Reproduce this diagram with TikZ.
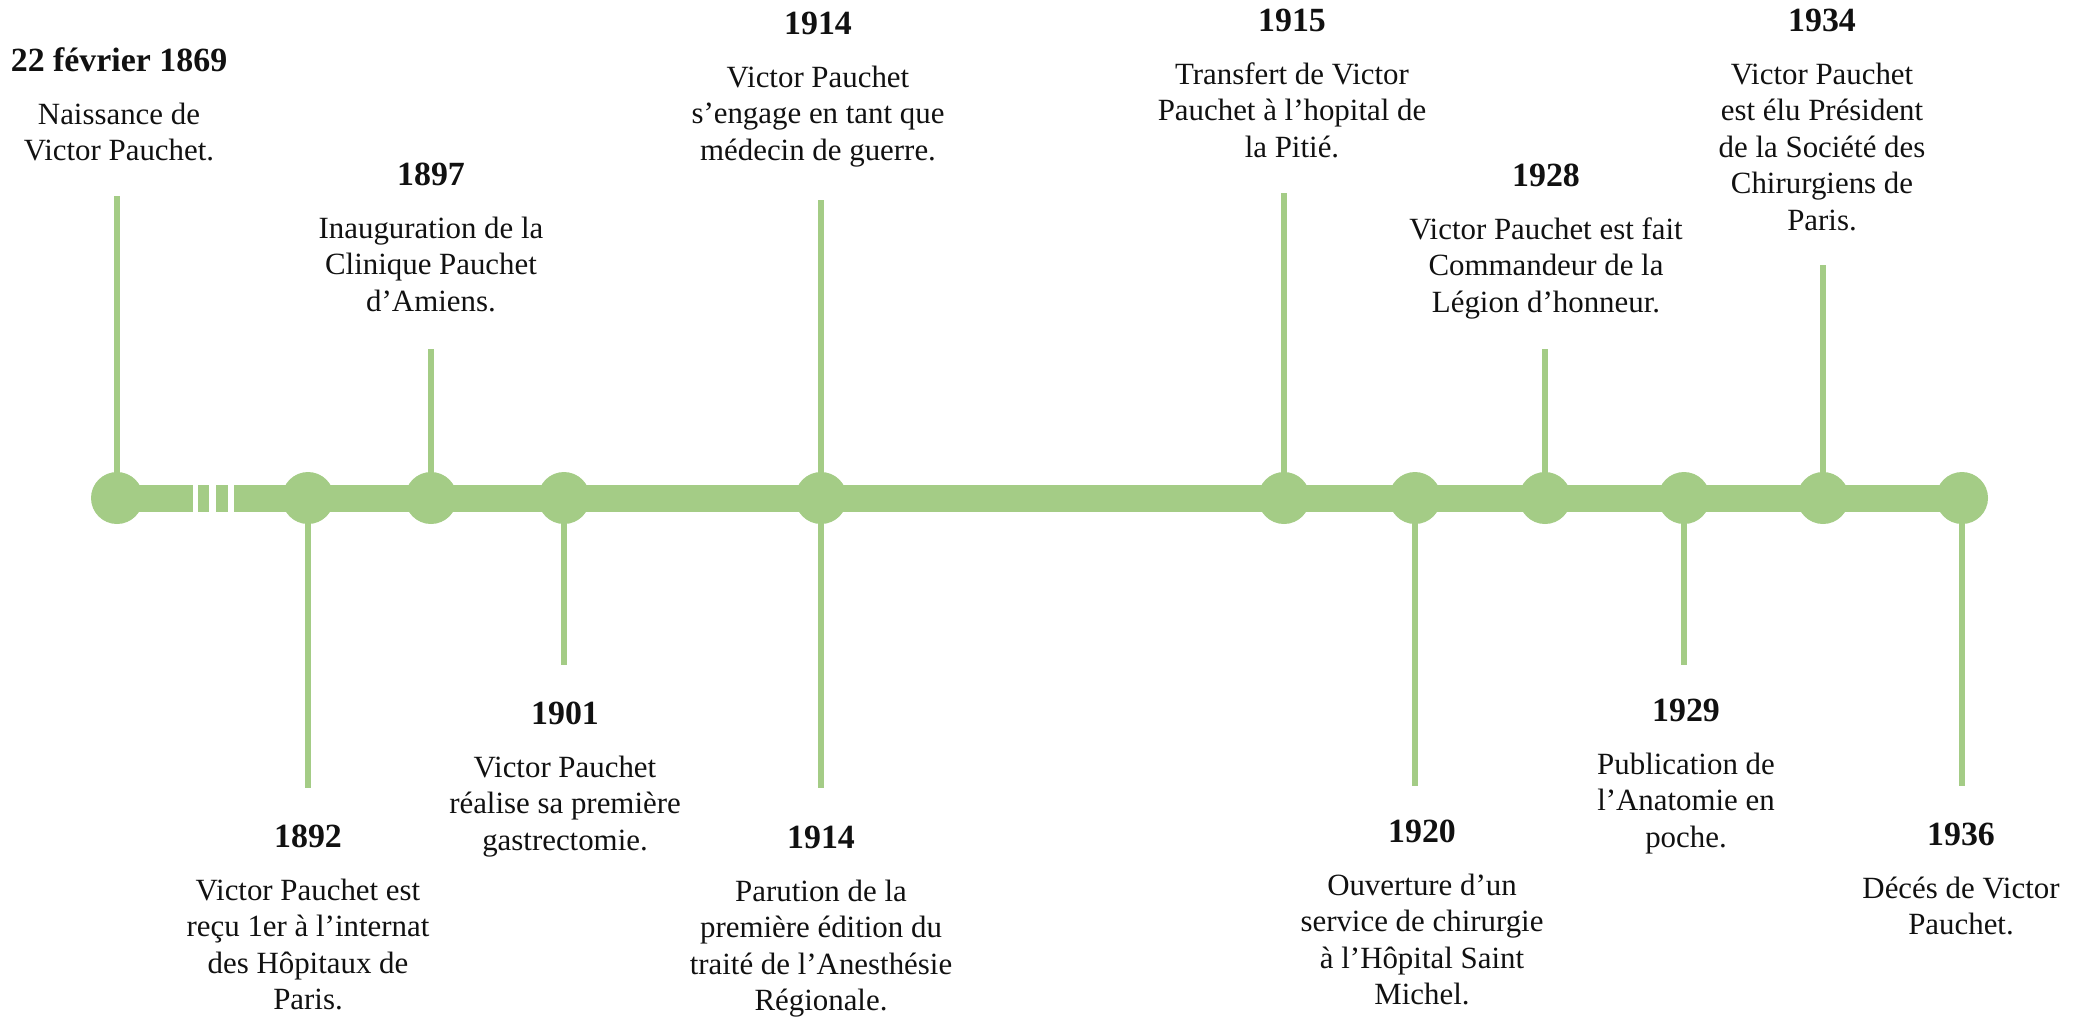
\documentclass[tikz,border=0pt]{standalone}
\usepackage{fontspec}
\setmainfont{Liberation Serif}
\usepackage{tikz}
\usetikzlibrary{positioning}
\definecolor{PauGreen}{HTML}{A4CC86}
\definecolor{PauText}{HTML}{111111}

\tikzset{
  dot/.style={circle,fill=PauGreen,inner sep=0pt,minimum size=26bp},
  stem/.style={draw=PauGreen,line width=2.75bp},
  year/.style={anchor=base,inner sep=0pt,text=PauText,font=\bfseries\fontsize{17}{20}\selectfont},
  event/.style={inner sep=0pt,align=center,text=PauText,font=\fontsize{15.5}{18.3}\selectfont},
}

\begin{document}
\begin{tikzpicture}[x=0.5bp,y=0.5bp]
  \useasboundingbox (0,0) rectangle (2086,-1021);

  % the bar and its break
  \draw[PauGreen,line width=13.5bp] (117,-498)--(1962,-498);
  \fill[white] (193,-480) rectangle (198,-516);
  \fill[white] (209,-480) rectangle (216,-516);
  \fill[white] (228,-480) rectangle (234,-516);

  % free ends of the stems
  \coordinate (s1869) at (117,-196);
  \coordinate (s1892) at (308,-788);
  \coordinate (s1897) at (431,-349);
  \coordinate (s1901) at (564,-665);
  \coordinate (s1914a) at (821,-200);
  \coordinate (s1914b) at (821,-788);
  \coordinate (s1915) at (1284,-193);
  \coordinate (s1920) at (1415,-786);
  \coordinate (s1928) at (1545,-349);
  \coordinate (s1929) at (1684,-665);
  \coordinate (s1934) at (1823,-265);
  \coordinate (s1936) at (1962,-786);

  % dates on the bar
  \node[dot] (e1869) at (117,-498) {};
  \node[dot] (e1892) at (308,-498) {};
  \node[dot] (e1897) at (431,-498) {};
  \node[dot] (e1901) at (564,-498) {};
  \node[dot] (e1914) at (821,-498) {};
  \node[dot] (e1915) at (1284,-498) {};
  \node[dot] (e1920) at (1415,-498) {};
  \node[dot] (e1928) at (1545,-498) {};
  \node[dot] (e1929) at (1684,-498) {};
  \node[dot] (e1934) at (1823,-498) {};
  \node[dot] (e1936) at (1962,-498) {};

  \draw[stem] (e1869.center)--(s1869);
  \draw[stem] (e1892.center)--(s1892);
  \draw[stem] (e1897.center)--(s1897);
  \draw[stem] (e1901.center)--(s1901);
  \draw[stem] (e1914.center)--(s1914a);
  \draw[stem] (e1914.center)--(s1914b);
  \draw[stem] (e1915.center)--(s1915);
  \draw[stem] (e1920.center)--(s1920);
  \draw[stem] (e1928.center)--(s1928);
  \draw[stem] (e1929.center)--(s1929);
  \draw[stem] (e1934.center)--(s1934);
  \draw[stem] (e1936.center)--(s1936);

  % above the bar
  \node[year] (y1869) at (119,-71) {22 février 1869};
  \node[event,below=13.7bp of y1869.base] (d1869) {\strut Naissance de\\Victor Pauchet.};
  \node[year] (y1897) at (431,-185) {1897};
  \node[event,below=13.7bp of y1897.base] (d1897) {\strut Inauguration de la\\Clinique Pauchet\\d’Amiens.};
  \node[year] (y1914a) at (818,-34) {1914};
  \node[event,below=13.7bp of y1914a.base] (d1914a) {\strut Victor Pauchet\\s’engage en tant que\\médecin de guerre.};
  \node[year] (y1915) at (1292,-31) {1915};
  \node[event,below=13.7bp of y1915.base] (d1915) {\strut Transfert de Victor\\Pauchet à l’hopital de\\la Pitié.};
  \node[year] (y1928) at (1546,-186) {1928};
  \node[event,below=13.7bp of y1928.base] (d1928) {\strut Victor Pauchet est fait\\Commandeur de la\\Légion d’honneur.};
  \node[year] (y1934) at (1822,-31) {1934};
  \node[event,below=13.7bp of y1934.base] (d1934) {\strut Victor Pauchet\\est élu Président\\de la Société des\\Chirurgiens de\\Paris.};

  % below the bar
  \node[year] (y1892) at (308,-847) {1892};
  \node[event,below=13.7bp of y1892.base] (d1892) {\strut Victor Pauchet est\\reçu 1er à l’internat\\des Hôpitaux de\\Paris.};
  \node[year] (y1901) at (565,-724) {1901};
  \node[event,below=13.7bp of y1901.base] (d1901) {\strut Victor Pauchet\\réalise sa première\\gastrectomie.};
  \node[year] (y1914b) at (821,-848) {1914};
  \node[event,below=13.7bp of y1914b.base] (d1914b) {\strut Parution de la\\première édition du\\traité de l’Anesthésie\\Régionale.};
  \node[year] (y1920) at (1422,-842) {1920};
  \node[event,below=13.7bp of y1920.base] (d1920) {\strut Ouverture d’un\\service de chirurgie\\à l’Hôpital Saint\\Michel.};
  \node[year] (y1929) at (1686,-721) {1929};
  \node[event,below=13.7bp of y1929.base] (d1929) {\strut Publication de\\l’Anatomie en\\poche.};
  \node[year] (y1936) at (1961,-845) {1936};
  \node[event,below=13.7bp of y1936.base] (d1936) {\strut Décés de Victor\\Pauchet.};
\end{tikzpicture}
\end{document}
